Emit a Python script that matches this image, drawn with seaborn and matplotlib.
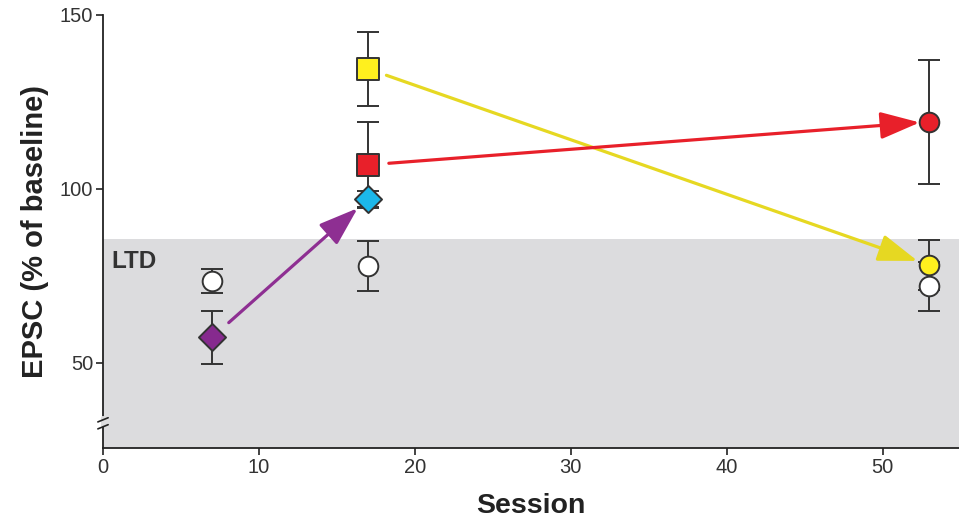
import numpy as np
import pandas as pd
import matplotlib
matplotlib.use("Agg")
from matplotlib import pyplot as plt
import seaborn as sns

# values
sessions = [7, 17, 53]
ctrl_epsc = [73.5, 77.8, 72.0]      # open circles
ctrl_err = [3.5, 7.2, 7.0]

purple_session = [7]
purple_epsc = [57.3]
purple_err = [7.7]

cyan_session = [17]
cyan_epsc = [97.1]
cyan_err = [2.4]

yellow_session = [17, 53]
yellow_epsc = [134.5, 78.1]
yellow_err = [10.7, 7.2]

red_session = [17, 53]
red_epsc = [106.9, 119.3]
red_err = [12.4, 17.8]

ltd_level = 85.6
x_ticks = [0, 10, 20, 30, 40, 50]
y_ticks = [50, 100, 150]

sns.set_style("ticks")
plt.rcParams['font.family'] = ['Liberation Sans', 'DejaVu Sans']

fig = plt.figure(figsize=(9.59, 5.23), dpi=100)
ax = fig.add_axes([0.1074, 0.1434, 0.8926, 0.828])
ax.set_xlim(0, 54.9)
ax.set_ylim(25.5, 150)

# LTD shaded region
ax.axhspan(25.5, ltd_level, color="#dcdcde", zorder=0, lw=0)
ax.text(0.55, 79, "LTD", fontsize=17.5, fontweight="bold", color="#333333",
        va="center", ha="left")

ebar_kw = dict(fmt="none", ecolor="#333333", elinewidth=1.4, capsize=8,
               capthick=1.4, zorder=2)
ax.errorbar(sessions, ctrl_epsc, yerr=ctrl_err, **ebar_kw)
ax.errorbar(purple_session, purple_epsc, yerr=purple_err, **ebar_kw)
ax.errorbar(cyan_session, cyan_epsc, yerr=cyan_err, **ebar_kw)
ax.errorbar(yellow_session, yellow_epsc, yerr=yellow_err, **ebar_kw)
ax.errorbar(red_session, red_epsc, yerr=red_err, **ebar_kw)

edge = "#333333"
# first session: squares, last: circles
sns.scatterplot(x=sessions, y=ctrl_epsc, marker="o", s=200, color="white",
                edgecolor=edge, linewidth=1.4, ax=ax, zorder=3)
sns.scatterplot(x=yellow_session[:1], y=yellow_epsc[:1], marker="s", s=240,
                color="#fff01e", edgecolor=edge, linewidth=1.4, ax=ax, zorder=3)
sns.scatterplot(x=red_session[:1], y=red_epsc[:1], marker="s", s=240,
                color="#e8202a", edgecolor=edge, linewidth=1.4, ax=ax, zorder=3)
sns.scatterplot(x=yellow_session[1:], y=yellow_epsc[1:], marker="o", s=200,
                color="#fff01e", edgecolor=edge, linewidth=1.4, ax=ax, zorder=4)
sns.scatterplot(x=red_session[1:], y=red_epsc[1:], marker="o", s=200,
                color="#e8202a", edgecolor=edge, linewidth=1.4, ax=ax, zorder=3)
sns.scatterplot(x=purple_session, y=purple_epsc, marker="D", s=190,
                color="#862a8e", edgecolor=edge, linewidth=1.4, ax=ax, zorder=3)
sns.scatterplot(x=cyan_session, y=cyan_epsc, marker="D", s=190,
                color="#1cb8ea", edgecolor=edge, linewidth=1.4, ax=ax, zorder=4)

# arrows between conditions
def arrow(x0, y0, x1, y1, color, sa, sb):
    ax.annotate("", xy=(x1, y1), xytext=(x0, y0),
                arrowprops=dict(arrowstyle="-|>,head_length=1.1,head_width=0.38",
                                color=color, lw=2.3, mutation_scale=22,
                                shrinkA=sa, shrinkB=sb), zorder=2.5)

arrow(purple_session[0], purple_epsc[0], cyan_session[0], cyan_epsc[0], "#8e2f92", 16, 10)
arrow(yellow_session[0], yellow_epsc[0], yellow_session[1], yellow_epsc[1], "#e6d822", 14, 9)
arrow(red_session[0], red_epsc[0], red_session[1], red_epsc[1], "#e8202a", 15, 7)

ax.set_xticks(x_ticks)
ax.set_yticks(y_ticks)
ax.tick_params(axis="both", labelsize=14.5, labelcolor="#333333", width=1.2,
               length=5, color="#222222", pad=2)
ax.set_xlabel("Session", fontsize=20.5, fontweight="bold", color="#222222", labelpad=12)
ax.set_ylabel("EPSC (% of baseline)", fontsize=21, fontweight="bold",
              color="#222222", labelpad=8)
sns.despine(ax=ax)
for sp in ("left", "bottom"):
    ax.spines[sp].set_linewidth(1.3)
    ax.spines[sp].set_color("#222222")

# y-axis break mark
trans = ax.get_yaxis_transform()
ax.plot([0, 0], [32.0, 34.0], transform=trans, color="#dcdcde", lw=3,
        clip_on=False, zorder=5)
for yb in (31.6, 33.6):
    ax.plot([-0.006, 0.006], [yb - 0.6, yb + 0.6], transform=trans,
            color="#222222", lw=1.2, clip_on=False, zorder=6)

fig.savefig("out.png", dpi=100)
